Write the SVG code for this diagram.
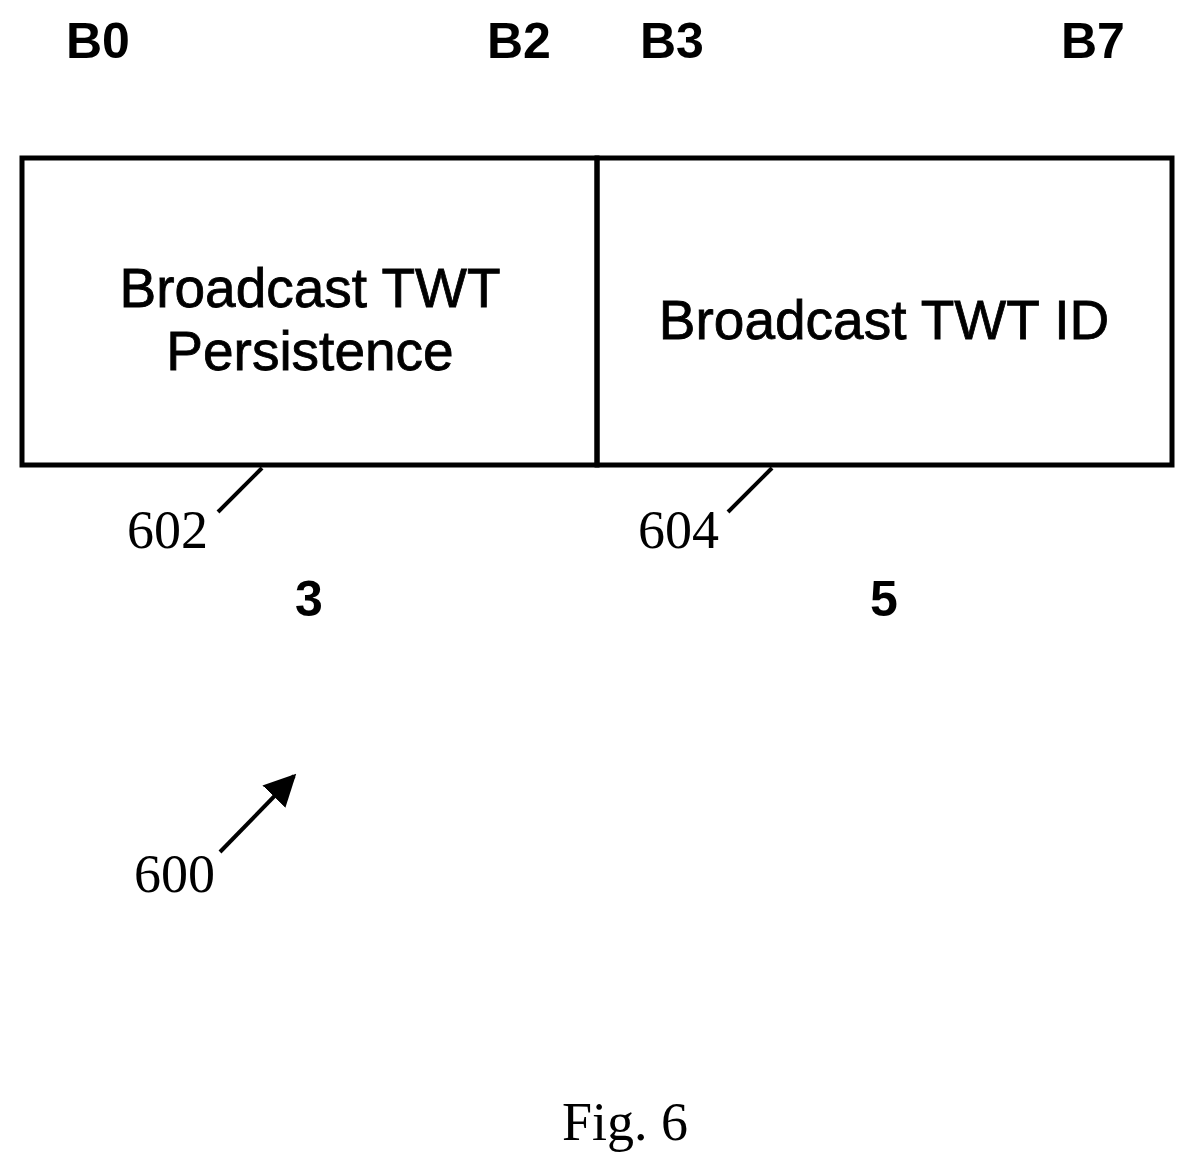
<svg xmlns="http://www.w3.org/2000/svg" width="1195" height="1174" viewBox="0 0 1195 1174">
<style>
.b{font-family:"Liberation Sans",Arial,sans-serif;font-weight:bold;font-size:50px;fill:#000}
.s{font-family:"Liberation Sans",Arial,sans-serif;font-size:55px;fill:#000;text-anchor:middle;stroke:#000;stroke-width:0.8}
.r{font-family:"Liberation Serif","Times New Roman",serif;font-size:54px;fill:#000}
.ln{stroke:#000;stroke-width:4;fill:none}
</style>
<defs>
<marker id="ah2" viewBox="0 0 10 10" refX="9" refY="5" markerWidth="32" markerHeight="32" markerUnits="userSpaceOnUse" orient="auto"><path d="M0,0 L10,5 L0,10 z" fill="#000"/></marker></defs>
<rect width="1195" height="1174" fill="#fff"/>
<g id="labels">
<text class="b" x="66" y="58">B0</text>
<text class="b" x="487" y="58">B2</text>
<text class="b" x="640" y="58">B3</text>
<text class="b" x="1061" y="58">B7</text>
</g>
<g id="n602">
<rect x="22" y="158" width="575" height="307" fill="none" stroke="#000" stroke-width="5"/>
<text class="s" x="310" y="307">Broadcast TWT</text>
<text class="s" x="310" y="370">Persistence</text>
<text class="b" x="309" y="616" text-anchor="middle">3</text>
</g>
<g id="n604">
<rect x="597" y="158" width="575" height="307" fill="none" stroke="#000" stroke-width="5"/>
<text class="s" x="884" y="339">Broadcast TWT ID</text>
<text class="b" x="884" y="616" text-anchor="middle">5</text>
</g>
<g id="connectors">
<line class="ln" x1="262" y1="468" x2="218" y2="512"/>
<line class="ln" x1="772" y1="468" x2="728" y2="512"/>
<line class="ln" x1="220" y1="852" x2="294" y2="776" marker-end="url(#ah2)"/>
</g>
<text class="r" x="127" y="548">602</text>
<text class="r" x="638" y="548">604</text>
<text class="r" x="134" y="892">600</text>
<text class="r" x="625" y="1140" text-anchor="middle" font-size="58">Fig. 6</text>
</svg>
